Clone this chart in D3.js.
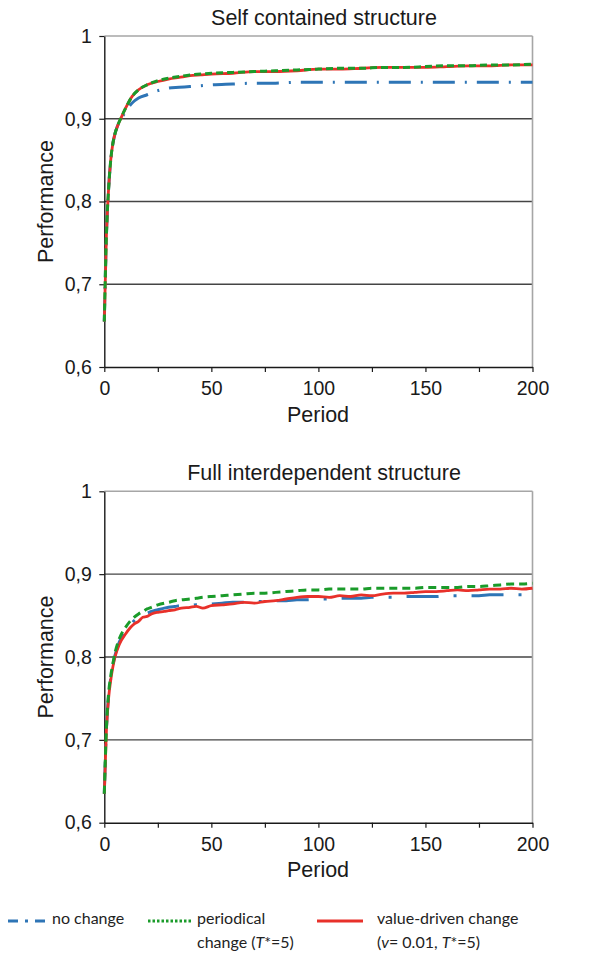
<!DOCTYPE html>
<html lang="en">
<head>
<meta charset="UTF-8">
<title>Performance over periods</title>
<script src="https://cdn.jsdelivr.net/npm/d3@7"></script>
<style>
  body { margin: 0; background: #fff; }
</style>
</head>
<body>
<svg width="598" height="954" id="main"></svg>
<script>
  // data
  const yTicks = [0.6, 0.7, 0.8, 0.9, 1];
  const xTicks = [0, 50, 100, 150, 200];
  const xMinorTicks = [0, 25, 50, 75, 100, 125, 150, 175, 200];

  // Self contained structure
  const topPeriods = [0, 1, 2, 3, 4, 5, 6, 8, 10, 13, 16, 20, 25, 30, 35, 40, 45, 50, 60, 70, 80, 90, 100,
    110, 120, 130, 140, 150, 160, 170, 180, 190, 200];
  const topNoChange = [0.655, 0.76, 0.815, 0.85, 0.87, 0.882, 0.89, 0.9, 0.909, 0.919, 0.925, 0.929, 0.934, 0.937,
    0.938, 0.939, 0.940, 0.941, 0.942, 0.943, 0.943, 0.944, 0.944, 0.944, 0.944, 0.944, 0.944, 0.944, 0.944,
    0.944, 0.944, 0.944, 0.944];
  const topPeriodical = [0.655, 0.76, 0.815, 0.85, 0.87, 0.882, 0.89, 0.902, 0.913, 0.927, 0.935, 0.941, 0.946,
    0.949, 0.951, 0.953, 0.954, 0.955, 0.956, 0.957, 0.958, 0.959, 0.960, 0.961, 0.961, 0.962, 0.962, 0.963,
    0.964, 0.964, 0.965, 0.965, 0.966];
  const topValueDriven = [0.655, 0.76, 0.815, 0.85, 0.87, 0.882, 0.89, 0.902, 0.913, 0.927, 0.935, 0.941, 0.945,
    0.948, 0.950, 0.952, 0.953, 0.954, 0.955, 0.957, 0.957, 0.958, 0.960, 0.960, 0.961, 0.962, 0.962, 0.962,
    0.963, 0.964, 0.964, 0.965, 0.965];

  // Full interdependent structure
  const bottomPeriods = [0, 1, 2, 3, 4, 5, 7, 10, 12, 14, 16, 18, 20, 22, 25, 28, 30, 33, 36, 40, 43, 46, 50,
    55, 60, 65, 70, 75, 80, 85, 90, 95, 100, 105, 110, 115, 120, 125, 130, 135, 140, 145, 150, 155, 160, 165,
    170, 175, 180, 185, 190, 195, 200];
  const bottomNoChange = [0.635, 0.714, 0.753, 0.774, 0.79, 0.802, 0.818, 0.831, 0.838, 0.844, 0.848, 0.851,
    0.853, 0.855, 0.857, 0.859, 0.86, 0.861, 0.862, 0.862, 0.863, 0.863, 0.864, 0.865, 0.866, 0.866, 0.867,
    0.867, 0.868, 0.868, 0.869, 0.869, 0.870, 0.870, 0.871, 0.871, 0.871, 0.872, 0.872, 0.872, 0.873, 0.873,
    0.873, 0.873, 0.874, 0.874, 0.874, 0.874, 0.875, 0.875, 0.875, 0.875, 0.875];
  const bottomPeriodical = [0.635, 0.715, 0.756, 0.777, 0.792, 0.805, 0.822, 0.836, 0.843, 0.848, 0.852, 0.855,
    0.858, 0.86, 0.863, 0.865, 0.866, 0.868, 0.869, 0.870, 0.871, 0.872, 0.873, 0.874, 0.875, 0.876, 0.877,
    0.877, 0.878, 0.879, 0.88, 0.881, 0.881, 0.882, 0.882, 0.882, 0.882, 0.883, 0.883, 0.883, 0.883, 0.883,
    0.884, 0.884, 0.884, 0.884, 0.885, 0.885, 0.886, 0.887, 0.888, 0.888, 0.889];
  const bottomValueDriven = [0.635, 0.712, 0.75, 0.772, 0.788, 0.8, 0.815, 0.828, 0.835, 0.84, 0.843, 0.848,
    0.849, 0.852, 0.854, 0.855, 0.856, 0.857, 0.859, 0.86, 0.861, 0.859, 0.862, 0.863, 0.864, 0.866, 0.865,
    0.867, 0.868, 0.870, 0.872, 0.873, 0.873, 0.872, 0.874, 0.873, 0.875, 0.874, 0.876, 0.877, 0.877, 0.878,
    0.879, 0.879, 0.88, 0.881, 0.88, 0.881, 0.882, 0.882, 0.883, 0.882, 0.883];

  const colors = { none: '#2e75b6', periodical: '#1a9b2a', value: '#e8312a' };
  const font = '"Liberation Sans", Arial, sans-serif';
  const ink = '#1a1a1a';

  const svg = d3.select('#main');

  const charts = [
    { title: 'Self contained structure', top: 36, bottom: 367, periods: topPeriods,
      none: topNoChange, periodical: topPeriodical, value: topValueDriven,
      dashNone: '22 10 2 10', dashGreen: '7 4' },
    { title: 'Full interdependent structure', top: 491.3, bottom: 822.7, periods: bottomPeriods,
      none: bottomNoChange, periodical: bottomPeriodical, value: bottomValueDriven,
      dashNone: '32 15 3 15', dashGreen: '8 5' },
  ];

  const left = 104.3, right = 532.5;

  charts.forEach(c => drawChart(c));
  drawLegend();

  function drawChart(c) {
    const x = d3.scaleLinear().domain([0, 200]).range([left, right]);
    const y = d3.scaleLinear().domain([0.6, 1]).range([c.bottom, c.top]);
    const g = svg.append('g');

    // grid lines
    g.selectAll('.grid')
      .data(yTicks.filter(v => v > 0.6))
      .enter()
      .append('line')
      .attr('x1', left).attr('x2', right)
      .attr('y1', d => y(d)).attr('y2', d => y(d))
      .attr('stroke', d => d === 1 ? '#a6a6a6' : '#444')
      .attr('stroke-width', d => d === 1 ? 1.6 : 1.4);

    // right border
    g.append('line')
      .attr('x1', right).attr('x2', right)
      .attr('y1', c.top).attr('y2', c.bottom)
      .attr('stroke', '#a6a6a6').attr('stroke-width', 1.6);

    // y axis
    const yAxis = g.append('g')
      .attr('transform', `translate(${left},0)`)
      .call(d3.axisLeft(y).tickValues(yTicks).tickSize(5).tickSizeOuter(0)
        .tickFormat(d => d === 1 ? '1' : d3.format('.1f')(d).replace('.', ',')));
    yAxis.select('.domain').attr('stroke', ink).attr('stroke-width', 1.4);
    yAxis.selectAll('.tick line').attr('stroke', ink).attr('stroke-width', 1.2);
    yAxis.selectAll('.tick text').attr('x', -12.5)
      .style('font-size', '19.5px').style('font-family', font).style('fill', ink);

    // x axis
    const xAxis = g.append('g')
      .attr('transform', `translate(0,${c.bottom})`)
      .call(d3.axisBottom(x).tickValues(xMinorTicks).tickSize(5).tickSizeOuter(0)
        .tickFormat(d => xTicks.includes(d) ? d : ''));
    xAxis.select('.domain').attr('stroke', ink).attr('stroke-width', 1.4);
    xAxis.selectAll('.tick line').attr('stroke', ink).attr('stroke-width', 1.2);
    xAxis.selectAll('.tick text').attr('y', 14)
      .style('font-size', '19.5px').style('font-family', font).style('fill', ink);

    // titles
    g.append('text')
      .attr('x', 324).attr('y', c.top - 11.5)
      .attr('text-anchor', 'middle')
      .style('font-size', '21.5px').style('font-family', font).style('fill', ink)
      .text(c.title);
    g.append('text')
      .attr('x', 318).attr('y', c.bottom + 54.5)
      .attr('text-anchor', 'middle')
      .style('font-size', '21.5px').style('font-family', font).style('fill', ink)
      .text('Period');
    g.append('text')
      .attr('transform', `translate(53,${(c.top + c.bottom) / 2}) rotate(-90)`)
      .attr('text-anchor', 'middle')
      .style('font-size', '21.5px').style('font-family', font).style('fill', ink)
      .text('Performance');

    const line = vals => d3.line()
      .x((d, i) => x(c.periods[i]))
      .y(d => y(d))
      .curve(d3.curveMonotoneX)(vals);

    g.append('path').attr('d', line(c.none))
      .attr('fill', 'none').attr('stroke', colors.none).attr('stroke-width', 3)
      .attr('stroke-dasharray', c.dashNone);
    g.append('path').attr('d', line(c.value))
      .attr('fill', 'none').attr('stroke', colors.value).attr('stroke-width', 2.8);
    g.append('path').attr('d', line(c.periodical))
      .attr('fill', 'none').attr('stroke', colors.periodical).attr('stroke-width', 3)
      .attr('stroke-dasharray', c.dashGreen);
  }

  function drawLegend() {
    const lg = svg.append('g').attr('class', 'legend');
    const items = [
      { x1: 8, x2: 48, tx: 52, color: colors.none, dash: '10 7 3 7', lines: [['no change']] },
      { x1: 148, x2: 193, tx: 197, color: colors.periodical, dash: '2.5 2', lines: [['periodical'],
        ['change (', ['T', true], '*=5)']] },
      { x1: 317, x2: 363, tx: 377, color: colors.value, dash: null, lines: [['value-driven change'],
        ['(', ['v', true], '= 0.01, ', ['T', true], '*=5)']] },
    ];
    items.forEach(it => {
      lg.append('line')
        .attr('x1', it.x1).attr('x2', it.x2).attr('y1', 921).attr('y2', 921)
        .attr('stroke', it.color).attr('stroke-width', 3)
        .attr('stroke-dasharray', it.dash);
      it.lines.forEach((parts, li) => {
        const t = lg.append('text')
          .attr('x', it.tx).attr('y', 924 + li * 24)
          .style('font-size', '16px').style('font-family', 'Lato, "Open Sans", sans-serif')
          .style('fill', '#222');
        parts.forEach(p => {
          if (Array.isArray(p)) t.append('tspan').style('font-style', 'italic').text(p[0]);
          else t.append('tspan').text(p);
        });
      });
    });
  }
</script>
</body>
</html>
